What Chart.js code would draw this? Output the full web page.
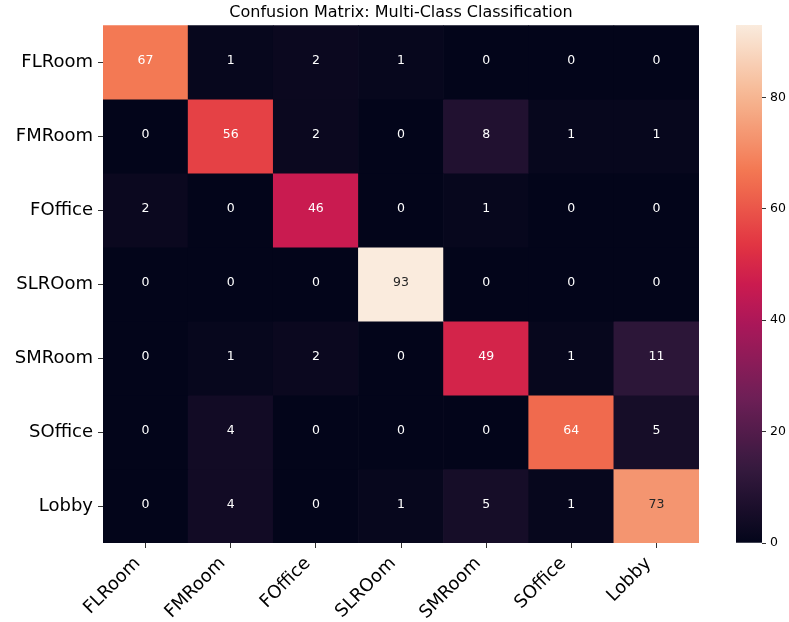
<!DOCTYPE html>
<html>
<head>
<meta charset="utf-8">
<script src="https://cdn.jsdelivr.net/npm/chart.js@4/dist/chart.umd.min.js"></script>
<style>
  html, body { margin: 0; padding: 0; background: #fff; }
  #wrap { position: relative; width: 789px; height: 622px; }
  #heat { position: absolute; left: 0; top: 0; }
  #cbar { position: absolute; left: 720px; top: 0; }
</style>
</head>
<body>
<div id="wrap">
  <canvas id="heat" width="789" height="622"></canvas>
  <canvas id="cbar" width="69" height="622"></canvas>
</div>
<script>
// Class names (rows = true class, columns = predicted class)
const classLabels = ['FLRoom', 'FMRoom', 'FOffice', 'SLROom', 'SMRoom', 'SOffice', 'Lobby'];

// Confusion counts, one array per true class
const rowFLRoom  = [67, 1, 2, 1, 0, 0, 0];
const rowFMRoom  = [0, 56, 2, 0, 8, 1, 1];
const rowFOffice = [2, 0, 46, 0, 1, 0, 0];
const rowSLROom  = [0, 0, 0, 93, 0, 0, 0];
const rowSMRoom  = [0, 1, 2, 0, 49, 1, 11];
const rowSOffice = [0, 4, 0, 0, 0, 64, 5];
const rowLobby   = [0, 4, 0, 1, 5, 1, 73];

// Colour bar tick values
const colorbarTicks = [0, 20, 40, 60, 80];

const matrixRows = [rowFLRoom, rowFMRoom, rowFOffice, rowSLROom, rowSMRoom, rowSOffice, rowLobby];
const vmax = Math.max(...matrixRows.flat());

// "rocket" style sequential colormap
const rocketStops = [
  [0.0,   [3, 5, 26]],
  [1 / 7, [53, 25, 62]],
  [2 / 7, [112, 31, 87]],
  [3 / 7, [173, 23, 89]],
  [0.5,   [203, 27, 79]],
  [4 / 7, [225, 51, 66]],
  [5 / 7, [243, 118, 81]],
  [6 / 7, [246, 180, 143]],
  [1.0,   [250, 235, 221]]
];

function rocket(t) {
  t = Math.min(1, Math.max(0, t));
  for (let i = 1; i < rocketStops.length; i++) {
    const [t1, c1] = rocketStops[i];
    const [t0, c0] = rocketStops[i - 1];
    if (t <= t1) {
      const f = (t - t0) / (t1 - t0);
      return c0.map((c, k) => Math.round(c + (c1[k] - c) * f));
    }
  }
  return rocketStops[rocketStops.length - 1][1];
}
const rgb = c => `rgb(${c[0]},${c[1]},${c[2]})`;

// dark text on light cells, white text on dark cells
function textColorFor(v) {
  const lin = rocket(v / vmax).map(c => {
    const s = c / 255;
    return s <= 0.03928 ? s / 12.92 : Math.pow((s + 0.055) / 1.055, 2.4);
  });
  const lum = 0.2126 * lin[0] + 0.7152 * lin[1] + 0.0722 * lin[2];
  return lum > 0.408 ? '#262626' : '#ffffff';
}

Chart.defaults.font.family = '"DejaVu Sans", sans-serif';
Chart.defaults.color = '#000';

// Writes each count in the middle of its cell
const cellLabels = {
  id: 'cellLabels',
  afterDatasetsDraw(chart) {
    const ctx = chart.ctx;
    ctx.save();
    ctx.font = '12.5px "DejaVu Sans", sans-serif';
    ctx.textAlign = 'center';
    ctx.textBaseline = 'middle';
    chart.data.datasets.forEach((ds, di) => {
      chart.getDatasetMeta(di).data.forEach((el, i) => {
        const v = ds.counts[i];
        const p = el.getCenterPoint();
        ctx.fillStyle = textColorFor(v);
        ctx.fillText(String(v), p.x, p.y - 1.5);
      });
    });
    ctx.restore();
  }
};

new Chart(document.getElementById('heat'), {
  type: 'bar',
  data: {
    labels: classLabels,
    datasets: matrixRows.map((vals, r) => ({
      label: classLabels[r],
      data: vals.map(() => [r, r + 1]),
      counts: vals,
      backgroundColor: vals.map(v => rgb(rocket(v / vmax))),
      borderWidth: 0,
      barPercentage: 1,
      categoryPercentage: 1
    }))
  },
  options: {
    responsive: false,
    animation: false,
    devicePixelRatio: 1,
    layout: { padding: { left: 0, right: 90, top: 0, bottom: 0 } },
    plugins: {
      legend: { display: false },
      tooltip: { enabled: false },
      title: {
        display: true,
        fullSize: false,
        text: 'Confusion Matrix: Multi-Class Classification',
        font: { size: 16, weight: 'normal' },
        color: '#000',
        padding: { top: 3, bottom: 3 }
      }
    },
    scales: {
      x: {
        stacked: true,
        grid: { drawOnChartArea: false, offset: false, tickLength: 5, color: '#333' },
        border: { display: false },
        ticks: {
          font: { size: 18 },
          color: '#000',
          minRotation: 45,
          maxRotation: 45,
          labelOffset: -8,
          padding: 5,
          autoSkip: false
        },
        afterFit(scale) { scale.height = 79; }
      },
      y: {
        type: 'linear',
        min: 0,
        max: 7,
        reverse: true,
        stacked: false,
        afterBuildTicks(scale) {
          scale.ticks = classLabels.map((_, i) => ({ value: i + 0.5 }));
        },
        ticks: {
          callback: v => classLabels[Math.floor(v)],
          font: { size: 18 },
          color: '#000',
          padding: 5,
          autoSkip: false
        },
        grid: { drawOnChartArea: false, tickLength: 5, color: '#333' },
        border: { display: false },
        afterFit(scale) { scale.width = 103; }
      }
    }
  },
  plugins: [cellLabels]
});

// Colour bar: one floating bar filled with the colormap gradient
function colorbarFill(context) {
  const area = context.chart.chartArea;
  if (!area) return rgb(rocket(0.5));
  const g = context.chart.ctx.createLinearGradient(0, area.bottom, 0, area.top);
  for (let i = 0; i <= 50; i++) {
    const t = i / 50;
    g.addColorStop(t, rgb(rocket(t)));
  }
  return g;
}

new Chart(document.getElementById('cbar'), {
  type: 'bar',
  data: {
    labels: [''],
    datasets: [{
      data: [[0, vmax]],
      backgroundColor: colorbarFill,
      borderWidth: 0,
      barPercentage: 1,
      categoryPercentage: 1
    }]
  },
  options: {
    responsive: false,
    animation: false,
    devicePixelRatio: 1,
    layout: { padding: { left: 16, right: 0, top: 25, bottom: 79 } },
    plugins: { legend: { display: false }, tooltip: { enabled: false } },
    scales: {
      x: { display: false },
      y: {
        position: 'right',
        min: 0,
        max: vmax,
        afterBuildTicks(scale) {
          scale.ticks = colorbarTicks.map(v => ({ value: v }));
        },
        ticks: { font: { size: 12.5 }, color: '#000', padding: 4 },
        grid: { drawOnChartArea: false, tickLength: 4, color: '#333' },
        border: { display: false },
        afterFit(scale) { scale.width = 27; }
      }
    }
  }
});
</script>
</body>
</html>
